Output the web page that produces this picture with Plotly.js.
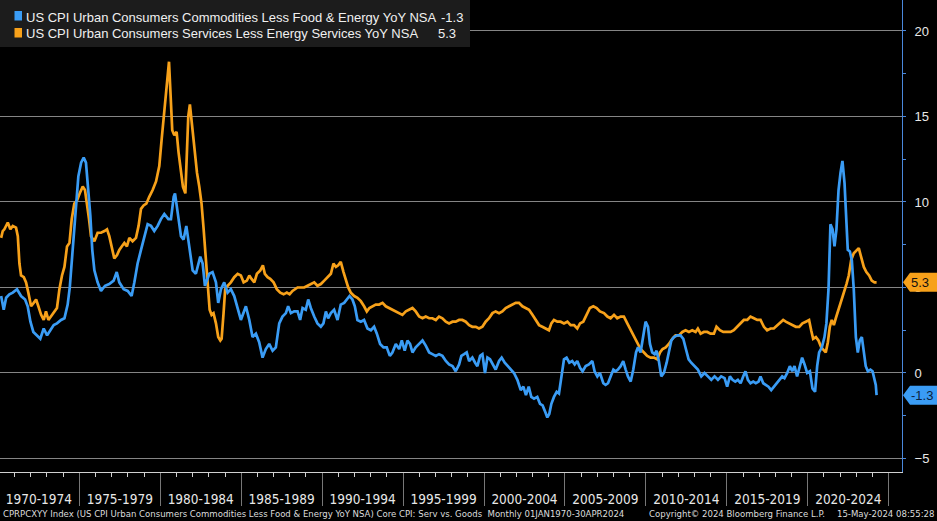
<!DOCTYPE html>
<html><head><meta charset="utf-8">
<script src="https://cdn.plot.ly/plotly-3.0.1.min.js"></script>
<style>html,body{margin:0;padding:0;background:#000;}#chart{width:937px;height:521px;}</style>
</head><body><div id="chart"></div>
<script>
// ---- Data (decimal years) ----
const goodsName = 'US CPI Urban Consumers Commodities Less Food & Energy YoY NSA';
const servName = 'US CPI Urban Consumers Services Less Energy Services YoY NSA';

const goodsX = [
 1970.17,1970.33,1970.48,1970.68,1970.89,1971.15,1971.40,1971.65,1971.81,1971.98,
 1972.16,1972.39,1972.59,1972.80,1973.01,1973.21,1973.42,1973.62,1973.87,1974.08,
 1974.28,1974.41,1974.53,1974.65,1974.80,1974.94,1975.11,1975.27,1975.41,1975.56,
 1975.68,1975.80,1975.93,1976.13,1976.34,1976.59,1976.85,1977.12,1977.31,1977.47,
 1977.74,1977.99,1978.23,1978.40,1978.60,1978.81,1979.01,1979.22,1979.43,1979.63,
 1979.84,1980.04,1980.25,1980.50,1980.66,1980.83,1980.91,1981.07,1981.28,1981.44,
 1981.61,1981.79,1982.00,1982.20,1982.47,1982.62,1982.76,1983.03,1983.23,1983.44,
 1983.58,1983.75,1983.95,1984.16,1984.36,1984.57,1984.78,1984.98,1985.29,1985.50,
 1985.70,1985.91,1986.11,1986.32,1986.52,1986.73,1986.94,1987.14,1987.35,1987.55,
 1987.76,1987.90,1988.07,1988.27,
 1988.48,1988.64,1988.79,1988.99,1989.14,1989.30,1989.51,1989.71,1989.92,1990.08,
 1990.23,1990.37,1990.54,1990.74,1990.95,1991.15,1991.36,1991.52,1991.69,1991.87,
 1992.02,1992.18,1992.39,1992.59,1992.80,1993.01,1993.21,1993.38,1993.58,1993.79,
 1993.99,1994.18,1994.34,1994.55,1994.76,1994.92,1995.10,1995.27,1995.43,1995.58,
 1995.78,1995.99,1996.20,1996.40,1996.61,1996.81,1997.02,1997.22,1997.43,1997.64,
 1997.84,1998.05,1998.25,1998.46,1998.60,1998.77,1998.93,1999.08,1999.28,1999.45,
 1999.59,1999.76,1999.90,2000.06,2000.21,2000.37,2000.54,2000.72,2000.93,2001.09,
 2001.28,2001.48,2001.65,2001.85,2002.06,2002.27,2002.43,2002.59,2002.76,2002.92,
 2003.09,2003.29,2003.46,2003.62,2003.79,2003.91,2004.03,2004.16,2004.32,2004.49,
 2004.63,2004.78,2004.94,2005.10,2005.27,2005.45,2005.60,2005.76,2005.93,2006.09,
 2006.28,2006.48,2006.69,2006.83,2007.00,2007.16,
 2007.37,2007.51,2007.66,2007.82,2007.99,2008.13,2008.27,2008.44,2008.60,2008.75,
 2008.89,2009.06,2009.22,2009.39,2009.51,2009.67,2009.84,2009.98,2010.13,2010.25,
 2010.39,2010.54,2010.66,2010.80,2010.95,2011.11,2011.28,2011.42,2011.57,2011.73,
 2011.94,2012.14,2012.31,2012.47,2012.64,2012.80,2013.01,2013.21,2013.42,2013.62,
 2013.83,2014.04,2014.24,2014.45,2014.65,2014.86,2015.02,2015.19,2015.35,2015.52,
 2015.68,2015.85,2016.01,2016.15,2016.30,2016.46,2016.63,2016.79,2016.96,2017.08,
 2017.25,2017.41,2017.57,2017.74,2017.90,2018.07,2018.23,2018.42,2018.56,2018.73,
 2018.89,2019.04,2019.18,2019.34,2019.51,2019.65,2019.80,2019.96,2020.13,2020.29,
 2020.45,2020.58,2020.70,2020.87,2021.03,2021.15,2021.28,2021.40,2021.53,2021.65,
 2021.77,2021.90,2022.02,2022.14,2022.27,2022.39,2022.47,2022.60,2022.72,2022.84,
 2022.97,2023.09,2023.21,2023.34,2023.46,2023.58,2023.71,2023.87,2024.00,2024.12,
 2024.20,2024.25
];
const goodsY = [
 4.5,3.7,4.4,4.6,4.7,4.9,4.5,4.3,3.9,3.0,
 2.4,2.2,2.0,2.6,2.2,2.5,2.8,2.9,3.1,3.2,
 4.0,5.0,6.5,8.0,9.9,11.5,12.3,12.6,12.3,10.7,
 9.2,7.2,6.0,5.3,4.8,5.1,5.2,5.4,5.9,5.3,
 4.9,4.8,4.5,5.3,6.4,7.2,8.0,8.7,8.6,8.3,
 8.6,9.0,9.3,9.0,9.0,10.3,10.5,9.5,8.0,7.8,
 8.6,7.4,6.0,5.8,6.8,6.4,5.1,5.8,5.9,5.3,
 4.1,4.9,5.3,4.7,4.9,4.5,3.8,3.1,3.9,3.1,
 2.1,2.3,1.8,0.9,1.4,1.7,1.3,1.5,2.9,3.3,
 3.5,3.9,3.5,3.6,
 3.6,3.1,3.8,3.7,4.3,3.8,3.3,2.9,2.7,2.9,
 3.6,3.2,3.5,3.7,3.1,4.0,4.1,4.3,4.5,4.3,
 3.9,3.1,3.0,3.1,2.6,2.5,2.7,2.3,1.7,1.5,
 1.5,1.0,1.2,1.7,1.4,1.9,1.3,1.9,1.7,1.2,
 1.5,1.7,1.9,1.6,1.2,1.1,1.0,1.1,1.0,0.7,
 0.5,0.4,0.1,0.5,1.0,1.1,1.2,0.7,0.9,0.6,
 0.4,1.0,1.1,0.0,0.9,0.8,0.5,0.2,0.7,0.9,
 0.6,0.4,0.2,0.0,-0.4,-1.0,-0.8,-1.3,-0.8,-1.4,
 -1.5,-1.4,-1.8,-1.9,-2.3,-2.6,-2.4,-1.8,-1.4,-1.1,
 -1.2,-0.2,0.8,0.9,0.6,0.7,0.5,0.7,0.3,0.1,
 0.4,0.5,0.7,0.1,-0.2,0.0,
 -0.6,-0.7,-0.6,-0.2,0.2,0.1,0.2,0.4,0.7,0.2,
 -0.2,-0.5,0.2,1.2,1.5,1.2,2.1,3.0,2.7,1.7,
 1.2,1.1,1.3,0.7,-0.2,0.0,0.6,1.3,1.9,2.1,
 2.2,2.2,2.0,1.4,0.8,0.6,0.4,0.2,-0.2,0.0,
 -0.2,-0.4,-0.2,-0.4,-0.2,-0.3,-0.8,-0.2,-0.4,-0.5,
 -0.4,-0.6,-0.2,0.1,-0.4,-0.6,-0.5,-0.6,-0.5,-0.2,
 -0.6,-0.7,-0.8,-1.0,-0.8,-0.6,-0.4,-0.2,-0.3,0.0,
 0.4,0.1,0.4,-0.2,0.4,0.9,0.5,0.0,0.1,-0.9,
 -1.1,0.4,1.2,1.5,2.1,2.9,4.9,8.7,8.4,7.4,
 8.4,10.7,11.7,12.4,11.1,9.1,7.2,7.1,6.6,4.9,
 2.1,1.2,1.9,2.1,1.3,0.4,0.1,0.2,0.1,-0.4,
 -0.7,-1.3
];

const servX = [
 1970.17,1970.27,1970.37,1970.58,1970.74,1970.89,1971.09,1971.20,1971.30,1971.40,
 1971.57,1971.71,1971.85,1972.02,1972.18,1972.33,1972.47,1972.64,1972.80,1972.94,
 1973.09,1973.25,1973.42,1973.62,1973.77,1973.93,1974.08,1974.24,1974.39,1974.53,
 1974.69,1974.86,1975.02,1975.21,1975.35,1975.48,1975.60,1975.72,1975.93,1976.13,
 1976.34,1976.55,1976.71,1976.85,1977.00,1977.16,1977.33,1977.47,1977.62,1977.78,
 1977.94,1978.09,1978.29,1978.50,1978.66,1978.81,1978.97,1979.14,1979.32,1979.53,
 1979.74,1979.94,1980.08,1980.21,1980.35,1980.46,1980.54,1980.62,1980.74,1980.87,
 1981.01,1981.13,1981.28,1981.40,1981.55,1981.65,1981.73,1981.83,1981.96,1982.10,
 1982.27,1982.41,1982.55,1982.68,1982.80,1982.92,1983.05,1983.17,1983.29,1983.44,
 1983.58,1983.71,1983.79,1983.91,1984.01,1984.16,1984.36,1984.57,1984.78,1984.98,
 1985.15,1985.35,1985.50,1985.64,1985.81,1985.97,1986.18,1986.34,1986.46,1986.63,
 1986.79,1987.00,1987.20,1987.41,1987.62,1987.82,1987.99,1988.17,
 1988.48,1988.69,1988.89,1989.10,1989.30,1989.51,1989.71,1989.92,1990.13,1990.33,
 1990.54,1990.70,1990.85,1990.99,1991.15,1991.32,1991.46,1991.61,1991.77,1991.98,
 1992.18,1992.39,1992.59,1992.76,1992.92,1993.11,1993.31,1993.52,1993.73,1993.93,
 1994.14,1994.34,1994.55,1994.76,1994.96,1995.17,1995.37,1995.58,1995.78,1995.99,
 1996.20,1996.40,1996.61,1996.81,1997.02,1997.22,1997.43,1997.64,1997.84,1998.05,
 1998.25,1998.46,1998.66,1998.87,1999.08,1999.28,1999.49,1999.69,1999.90,2000.10,
 2000.31,2000.52,2000.72,2000.93,2001.13,2001.34,2001.55,2001.75,2001.96,2002.16,
 2002.37,2002.57,2002.78,2002.99,2003.19,2003.40,2003.60,2003.81,2004.01,2004.16,
 2004.32,2004.53,2004.73,2004.94,2005.15,2005.35,2005.56,2005.76,2005.93,2006.13,
 2006.34,2006.54,2006.75,2006.96,2007.16,
 2007.41,2007.62,2007.82,2008.03,2008.23,2008.44,2008.64,2008.85,2009.06,2009.26,
 2009.47,2009.67,2009.88,2010.08,2010.29,2010.50,2010.70,2010.87,2011.03,2011.22,
 2011.42,2011.63,2011.83,2012.04,2012.25,2012.45,2012.66,2012.86,2013.07,2013.21,
 2013.38,2013.58,2013.79,2013.99,2014.20,2014.36,2014.57,2014.78,2014.98,2015.23,
 2015.43,2015.64,2015.85,2016.05,2016.26,2016.46,2016.67,2016.88,2017.08,2017.29,
 2017.49,2017.70,2017.90,2018.11,2018.32,2018.48,2018.64,2018.85,2019.06,2019.26,
 2019.47,2019.67,2019.88,2020.08,2020.21,2020.33,2020.50,2020.66,2020.83,2020.99,
 2021.11,2021.24,2021.36,2021.48,2021.61,2021.73,2021.90,2022.06,2022.23,2022.39,
 2022.53,2022.68,2022.84,2023.01,2023.15,2023.29,2023.46,2023.62,2023.79,2023.95,
 2024.12,2024.25
];
const servY = [
 7.9,8.3,8.4,8.8,8.4,8.6,8.5,8.0,6.4,5.7,
 5.6,5.3,4.7,3.9,4.1,4.3,3.9,3.4,3.1,3.6,
 3.1,3.3,3.5,3.8,4.9,5.7,6.2,7.4,7.6,9.0,
 9.9,10.1,10.5,10.9,10.7,9.9,9.0,8.0,7.7,8.2,
 8.2,8.3,8.4,8.0,7.4,6.7,6.9,7.2,7.4,7.6,
 7.4,7.9,7.7,7.9,8.6,9.6,9.8,9.9,10.3,10.7,
 11.2,12.1,13.6,15.0,16.4,17.3,18.2,16.6,14.2,13.9,
 14.1,12.9,11.7,10.9,10.5,13.1,15.0,15.7,14.6,13.1,
 11.7,10.9,9.9,8.4,6.8,5.3,3.7,3.4,3.5,2.9,
 2.1,1.9,2.0,3.5,4.9,5.1,5.3,5.6,5.8,5.7,
 5.3,5.4,5.7,5.5,5.3,5.8,6.0,6.3,5.8,5.6,
 5.5,5.3,4.9,4.7,4.6,4.7,4.6,4.8,
 5.0,5.0,5.0,5.1,5.2,5.3,5.1,5.2,5.4,5.6,
 5.8,6.4,6.2,6.3,6.5,5.9,5.4,5.0,4.7,4.5,
 4.4,4.2,3.9,3.6,3.8,3.9,4.0,4.0,4.1,3.9,
 3.8,3.7,3.6,3.5,3.4,3.6,3.7,3.8,3.6,3.3,
 3.2,3.3,3.2,3.2,3.1,3.3,3.2,3.0,2.9,3.0,
 3.0,3.1,3.1,3.0,2.8,2.7,2.7,2.6,2.7,3.0,
 3.2,3.5,3.6,3.5,3.6,3.8,3.9,4.0,4.1,4.1,
 3.9,3.8,3.7,3.4,3.1,2.8,2.7,2.6,2.5,2.9,
 3.1,3.0,3.0,2.9,3.0,2.8,2.8,2.6,2.9,3.0,
 3.4,3.8,3.9,3.8,3.6,
 3.5,3.3,3.2,3.4,3.2,3.3,3.3,2.9,2.5,2.1,
 1.7,1.4,1.2,1.0,0.9,0.9,0.8,1.2,1.4,1.5,
 1.7,2.0,2.2,2.2,2.4,2.5,2.4,2.5,2.4,2.6,
 2.3,2.4,2.4,2.3,2.3,2.7,2.5,2.4,2.4,2.4,
 2.5,2.7,2.9,3.1,3.1,3.3,3.2,3.1,3.1,2.7,
 2.5,2.6,2.6,2.8,3.0,3.1,3.0,2.9,2.8,2.7,
 2.7,2.9,3.0,3.1,2.5,2.0,2.1,1.9,1.5,1.3,
 1.2,1.8,2.7,3.1,2.8,3.2,3.7,4.1,4.7,5.2,
 5.7,6.6,7.0,7.2,7.3,6.8,6.2,5.9,5.7,5.4,
 5.3,5.3
];

const periodLabels = ['1970-1974','1975-1979','1980-1984','1985-1989','1990-1994','1995-1999','2000-2004','2005-2009','2010-2014','2015-2019','2020-2024'];
const periodMid = [1972.5,1977.5,1982.5,1987.5,1992.5,1997.5,2002.5,2007.5,2012.5,2017.5,2022.5];
const periodBounds = [1975,1980,1985,1990,1995,2000,2005,2010,2015,2020,2025];
const yTicks = [-5,0,5,10,15,20];
const footerLeft = 'CPRPCXYY Index (US CPI Urban Consumers Commodities Less Food & Energy YoY NSA) Core CPI: Serv vs. Goods  Monthly 01JAN1970-30APR2024';
const footerMid = 'Copyright\u00a9 2024 Bloomberg Finance L.P.';
const footerRight = '15-May-2024 08:55:28';

// ---- Styling ----
const BLUE = '#3a9cf5', ORANGE = '#f7a11a', AXIS_BLUE = '#4a88dc';
const X_RANGE = [1970.1, 2025.82];
const Y_RANGE = [-5.79, 21.81];
const PW = 902, PH = 472;
const px = p => p / PW;
const py = p => 1 - p / PH;
const pxPerYear = PW / (X_RANGE[1] - X_RANGE[0]);
const narrow = 'DejaVu Sans Condensed, Liberation Sans Narrow, Arial Narrow, sans-serif';
const goodsLast = goodsY[goodsY.length - 1];
const servLast = servY[servY.length - 1];

const traces = [
  {x: servX, y: servY, type: 'scatter', mode: 'lines', line: {color: ORANGE, width: 2.7}, hoverinfo: 'skip'},
  {x: goodsX, y: goodsY, type: 'scatter', mode: 'lines', line: {color: BLUE, width: 2.7}, hoverinfo: 'skip'},
  {x: yTicks.map(() => X_RANGE[1] + 4.5 / pxPerYear), y: yTicks, type: 'scatter', mode: 'markers',
   marker: {symbol: 'triangle-right', size: 8, color: AXIS_BLUE}, cliponaxis: false, hoverinfo: 'skip'},
  {x: periodMid, y: periodMid.map(() => null), xaxis: 'x2', type: 'scatter', mode: 'lines', hoverinfo: 'skip'}
];

function tag(v, color) {
  return {type: 'path', xref: 'paper', yref: 'y', xsizemode: 'pixel', ysizemode: 'pixel',
    xanchor: 1, yanchor: v, path: 'M 1 0 L 8 9.5 L 40 9.5 L 40 -9.5 L 8 -9.5 Z',
    fillcolor: color, line: {width: 0}, layer: 'above'};
}

const layout = {
  width: 937, height: 521,
  margin: {l: 0, r: 35, t: 0, b: 49, pad: 0},
  paper_bgcolor: '#000', plot_bgcolor: '#000',
  showlegend: false, hovermode: false,
  font: {family: 'Liberation Sans, Arial, sans-serif', color: '#e8e8e8', size: 13},
  xaxis: {type: 'linear', range: X_RANGE, showgrid: false, zeroline: false,
    showline: true, linecolor: '#d0d0d0', linewidth: 1,
    tickmode: 'array', tickvals: periodBounds, ticks: 'outside', ticklen: 33, tickwidth: 1, tickcolor: '#777',
    showticklabels: false,
    minor: {tickmode: 'linear', tick0: 1970, dtick: 1, ticks: 'outside', ticklen: 4, tickwidth: 1, tickcolor: '#d0d0d0', showgrid: false}},
  xaxis2: {type: 'linear', overlaying: 'x', anchor: 'y', side: 'bottom', range: X_RANGE,
    tickmode: 'array', tickvals: periodMid, ticktext: periodLabels,
    ticks: 'outside', ticklen: 15, tickcolor: 'rgba(0,0,0,0)', ticklabeloverflow: 'allow',
    showline: false, showgrid: false, zeroline: false,
    tickfont: {family: narrow, size: 13.5, color: '#e8e8e8'}},
  yaxis: {side: 'right', range: Y_RANGE, tickmode: 'array', tickvals: yTicks,
    showgrid: true, gridcolor: '#858585', gridwidth: 1, zeroline: false,
    showline: true, linecolor: AXIS_BLUE, linewidth: 1,
    ticks: 'outside', ticklen: 9, tickcolor: 'rgba(0,0,0,0)',
    tickfont: {size: 13, color: '#e8e8e8'},
    minor: {tickmode: 'linear', tick0: 0, dtick: 2.5, ticks: 'outside', ticklen: 3, tickcolor: AXIS_BLUE, showgrid: false}},
  shapes: [
    {type: 'rect', xref: 'paper', yref: 'paper', x0: 0, x1: px(470), y0: py(47), y1: 1,
     fillcolor: '#1c1c1c', line: {width: 0}, layer: 'above'},
    {type: 'rect', xref: 'paper', yref: 'paper', x0: px(14.5), x1: px(22), y0: py(20.5), y1: py(11),
     fillcolor: BLUE, line: {width: 0}, layer: 'above'},
    {type: 'rect', xref: 'paper', yref: 'paper', x0: px(14.5), x1: px(22), y0: py(37.5), y1: py(28),
     fillcolor: ORANGE, line: {width: 0}, layer: 'above'},
    tag(servLast, ORANGE),
    tag(goodsLast, BLUE)
  ],
  annotations: [
    {xref: 'paper', yref: 'paper', x: px(24), y: py(17), xanchor: 'left', yanchor: 'middle', showarrow: false,
     text: goodsName, font: {size: 13, color: '#f0f0f0'}},
    {xref: 'paper', yref: 'paper', x: px(465), y: py(17), xanchor: 'right', yanchor: 'middle', showarrow: false,
     text: goodsLast.toFixed(1), font: {size: 13, color: '#f0f0f0'}},
    {xref: 'paper', yref: 'paper', x: px(24), y: py(33), xanchor: 'left', yanchor: 'middle', showarrow: false,
     text: servName, font: {size: 13, color: '#f0f0f0'}},
    {xref: 'paper', yref: 'paper', x: px(458), y: py(33), xanchor: 'right', yanchor: 'middle', showarrow: false,
     text: servLast.toFixed(1), font: {size: 13, color: '#f0f0f0'}},
    {xref: 'paper', yref: 'y', x: 1, y: servLast, xanchor: 'left', yanchor: 'middle', xshift: 7, showarrow: false,
     text: servLast.toFixed(1), font: {size: 13, color: '#111'}},
    {xref: 'paper', yref: 'y', x: 1, y: goodsLast, xanchor: 'left', yanchor: 'middle', xshift: 7, showarrow: false,
     text: goodsLast.toFixed(1), font: {size: 13, color: '#0b2240'}},
    {xref: 'paper', yref: 'paper', x: px(1), y: py(513), xanchor: 'left', yanchor: 'middle', showarrow: false,
     text: footerLeft, font: {family: narrow, size: 9.5, color: '#dcdcdc'}},
    {xref: 'paper', yref: 'paper', x: px(647), y: py(513), xanchor: 'left', yanchor: 'middle', showarrow: false,
     text: footerMid, font: {family: narrow, size: 9.5, color: '#dcdcdc'}},
    {xref: 'paper', yref: 'paper', x: px(936), y: py(513), xanchor: 'right', yanchor: 'middle', showarrow: false,
     text: footerRight, font: {family: narrow, size: 9.5, color: '#dcdcdc'}}
  ]
};

Plotly.newPlot('chart', traces, layout, {staticPlot: true, displayModeBar: false});
</script>
</body></html>
